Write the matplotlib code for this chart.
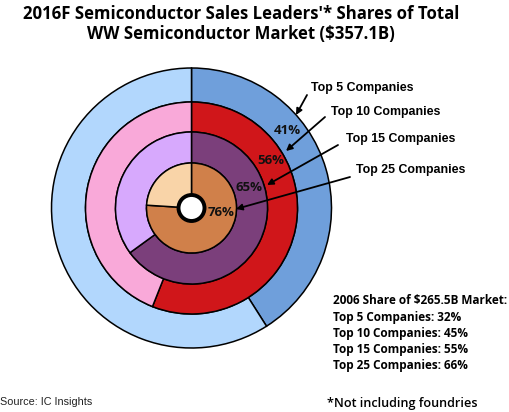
import numpy as np
import matplotlib
matplotlib.use("Agg")
import matplotlib.pyplot as plt
from matplotlib.patches import Circle

# data
ring_labels = ["Top 5 Companies", "Top 10 Companies", "Top 15 Companies", "Top 25 Companies"]
shares_2016 = [41, 56, 65, 76]
shares_2006 = [32, 45, 55, 66]
dark_colors = ["#6f9fdb", "#d0161a", "#7b3f7b", "#d0804a"]
light_colors = ["#b2d7fd", "#f9a9d9", "#d7a9fd", "#f9d4a8"]

W, H = 509, 412
fig = plt.figure(figsize=(W / 100, H / 100), dpi=100)
ax = fig.add_axes([0, 0, 1, 1])

cx, cy = 191.5, H - 208
radii = [140, 106, 76, 45]
hole = 13

for i, share in enumerate(shares_2016):
    width = radii[i] - (radii[i + 1] if i + 1 < len(radii) else hole)
    ax.pie([share, 100 - share], colors=[dark_colors[i], light_colors[i]],
           startangle=90, counterclock=False, center=(cx, cy), radius=radii[i],
           wedgeprops=dict(width=width, edgecolor="black", linewidth=1.1))

ax.add_patch(Circle((cx, cy), hole, facecolor="white", edgecolor="black", lw=2.8, zorder=5))

# percent labels inside the dark segments (angle clockwise from top, radius)
pct_pos = [(51, 123), (59, 93), (70, 61), (99, 30)]
for share, (ang, r) in zip(shares_2016, pct_pos):
    a = np.radians(ang)
    ax.text(cx + r * np.sin(a), cy + r * np.cos(a), f"{share}%", ha="center", va="center",
            fontsize=9.5, fontweight="bold", family="Open Sans", color="#111111")

# callouts
text_pos = [(311, 88), (331, 112), (346, 139), (356, 170)]
arrow_tail = [(307, 95), (325, 117), (338, 145), (350, 177)]
arrow_head = [(296, 115), (286, 151), (267, 185), (236, 209)]
for lab, (tx, ty), (ax0, ay0), (hx, hy) in zip(ring_labels, text_pos, arrow_tail, arrow_head):
    ax.text(tx, H - ty, lab, ha="left", va="center", fontsize=8.9, fontweight="bold",
            family="Liberation Sans")
    ax.annotate("", xy=(hx, H - hy), xytext=(ax0, H - ay0),
                arrowprops=dict(arrowstyle="-|>", color="black", lw=1.3,
                                mutation_scale=9, shrinkA=0, shrinkB=0), zorder=6)

ax.text(241, H - 24, "2016F Semiconductor Sales Leaders'* Shares of Total\nWW Semiconductor Market ($357.1B)",
        ha="center", va="center", fontsize=12.1, fontweight="bold", family="Open Sans",
        linespacing=1.2)

lines = ["2006 Share of $265.5B Market:"] + [f"{l}: {v}%" for l, v in zip(ring_labels, shares_2006)]
for k, line in enumerate(lines):
    ax.text(333, H - (301 + 16.2 * k), line, ha="left", va="center", fontsize=8.5,
            fontweight="bold", family="Open Sans")

ax.text(0, H - 402, "Source: IC Insights", ha="left", va="center", fontsize=7.8,
        family="Liberation Sans", color="#222222")
ax.text(327, H - 404, "*Not including foundries", ha="left", va="center", fontsize=9.1,
        fontweight="semibold", family="Open Sans")

ax.set_xlim(0, W)
ax.set_ylim(0, H)
ax.set_aspect("equal")
ax.axis("off")
fig.savefig("out.png", dpi=100)
